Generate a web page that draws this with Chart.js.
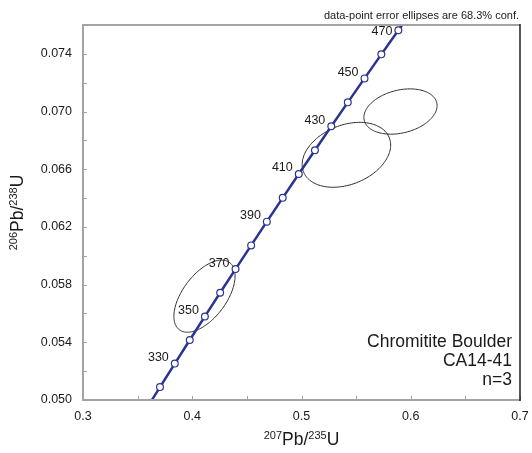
<!DOCTYPE html>
<html lang="en">
<head>
<meta charset="UTF-8">
<title>Concordia - Chromitite Boulder CA14-41</title>
<script src="https://cdn.jsdelivr.net/npm/chart.js"></script>
<style>
  html, body { margin: 0; padding: 0; background: #fff; }
  #wrap { width: 532px; height: 453px; }
</style>
</head>
<body>
<div id="wrap"><canvas id="chart" width="532" height="453"></canvas></div>
<script>
// concordia markers every 10 Ma
const ages = [320, 330, 340, 350, 360, 370, 380, 390, 400, 410, 420, 430, 440, 450, 460, 470];
const pb207u235 = [0.37047, 0.38403, 0.39773, 0.41156, 0.42553, 0.43964, 0.45389, 0.46828,
                   0.48281, 0.49749, 0.51231, 0.52728, 0.54239, 0.55766, 0.57308, 0.58865];
const pb206u238 = [0.050893, 0.052524, 0.054158, 0.055794, 0.057433, 0.059075, 0.060719, 0.062366,
                   0.064015, 0.065667, 0.067321, 0.068978, 0.070637, 0.072299, 0.073964, 0.075631];
// concordia runs past the frame at both ends (310 and 480 Ma)
const curveStart = [0.35703, 0.049264];
const curveEnd = [0.60437, 0.077301];
const labelledAges = [330, 350, 370, 390, 410, 430, 450, 470];

// data-point error ellipses
const ellipseX = [0.4112, 0.5411, 0.5906];
const ellipseY = [0.0572, 0.0670, 0.0700];
const ellipseErrX = [0.0280, 0.0405, 0.0335];
const ellipseErrY = [0.00250, 0.00225, 0.00157];
const ellipseRho = [0.56, 0.30, 0.26];

// axes
const xTicks = [0.30, 0.35, 0.40, 0.45, 0.50, 0.55, 0.60, 0.65, 0.70];
const xLabels = ['0.3', '0.4', '0.5', '0.6', '0.7'];
const yTicks = [0.050, 0.052, 0.054, 0.056, 0.058, 0.060, 0.062, 0.064, 0.066, 0.068, 0.070, 0.072, 0.074, 0.076];
const yLabels = ['0.050', '0.054', '0.058', '0.062', '0.066', '0.070', '0.074'];

const noteText = 'data-point error ellipses are 68.3% conf.';
const sampleText = ['Chromitite Boulder', 'CA14-41', 'n=3'];

const FONT = "'Liberation Sans', Arial, sans-serif";
const BLUE = '#2b3392';
const AXIS = '#a3a3a3';

Chart.defaults.font.family = FONT;

const curve = [{ x: curveStart[0], y: curveStart[1] }]
  .concat(ages.map((a, i) => ({ x: pb207u235[i], y: pb206u238[i] })))
  .concat([{ x: curveEnd[0], y: curveEnd[1] }]);
const markers = ages.map((a, i) => ({ x: pb207u235[i], y: pb206u238[i] }));

function drawSupText(ctx, parts, x, y) {
    // parts: [text, isSuperscript]
    const big = '17.5px ' + FONT, small = '11px ' + FONT;
    let w = 0;
    parts.forEach(p => { ctx.font = p[1] ? small : big; w += ctx.measureText(p[0]).width; });
    let cx = x - w / 2;
    ctx.textAlign = 'left';
    ctx.textBaseline = 'alphabetic';
    parts.forEach(p => {
        ctx.font = p[1] ? small : big;
        ctx.fillText(p[0], cx, p[1] ? y - 6 : y);
        cx += ctx.measureText(p[0]).width;
    });
}

const concordiaPlugin = {
    id: 'concordia',
    beforeDatasetsDraw(chart) {
        const { ctx, chartArea: a, scales: { x, y } } = chart;
        ctx.save();
        ctx.beginPath();
        ctx.rect(a.left, a.top, a.right - a.left, a.bottom - a.top);
        ctx.clip();
        ctx.strokeStyle = '#2a2a2a';
        ctx.lineWidth = 1;
        ellipseX.forEach((cx, i) => {
            const rho = ellipseRho[i];
            ctx.beginPath();
            for (let k = 0; k <= 160; k++) {
                const t = k / 160 * 2 * Math.PI;
                const dx = ellipseErrX[i] * Math.cos(t);
                const dy = ellipseErrY[i] * (rho * Math.cos(t) + Math.sqrt(1 - rho * rho) * Math.sin(t));
                const px = x.getPixelForValue(cx + dx);
                const py = y.getPixelForValue(ellipseY[i] + dy);
                if (k === 0) ctx.moveTo(px, py); else ctx.lineTo(px, py);
            }
            ctx.closePath();
            ctx.stroke();
        });
        ctx.restore();
    },
    afterDraw(chart) {
        const { ctx, chartArea: a, scales: { x, y } } = chart;
        ctx.save();

        // inward tick marks
        ctx.strokeStyle = AXIS;
        ctx.lineWidth = 1;
        yTicks.forEach(v => {
            const py = Math.round(y.getPixelForValue(v)) + 0.5;
            ctx.beginPath(); ctx.moveTo(a.left, py); ctx.lineTo(a.left + 4, py); ctx.stroke();
        });
        xTicks.forEach(v => {
            const px = Math.round(x.getPixelForValue(v)) + 0.5;
            ctx.beginPath(); ctx.moveTo(px, a.bottom); ctx.lineTo(px, a.bottom - 4); ctx.stroke();
        });

        // frame
        ctx.lineWidth = 2;
        ctx.strokeStyle = AXIS;
        ctx.beginPath();
        ctx.moveTo(a.right, a.top); ctx.lineTo(a.left, a.top);
        ctx.lineTo(a.left, a.bottom); ctx.lineTo(a.right, a.bottom);
        ctx.stroke();
        ctx.lineWidth = 1.5;
        ctx.strokeStyle = '#1e1e1e';
        ctx.beginPath(); ctx.moveTo(a.right, a.top - 1); ctx.lineTo(a.right, a.bottom + 1); ctx.stroke();

        // age labels on the concordia
        ctx.fillStyle = '#1a1a1a';
        ctx.font = '12.5px ' + FONT;
        ctx.textAlign = 'right';
        ctx.textBaseline = 'middle';
        labelledAges.forEach(age => {
            const i = ages.indexOf(age);
            const px = x.getPixelForValue(pb207u235[i]);
            const py = y.getPixelForValue(pb206u238[i]);
            ctx.fillText(String(age), px - 6, Math.max(py - 6, a.top + 7));
        });

        // axis titles
        drawSupText(ctx, [['207', true], ['Pb/', false], ['235', true], ['U', false]], (a.left + a.right) / 2, 445);
        ctx.save();
        ctx.translate(23, (a.top + a.bottom) / 2);
        ctx.rotate(-Math.PI / 2);
        drawSupText(ctx, [['206', true], ['Pb/', false], ['238', true], ['U', false]], 0, 0);
        ctx.restore();

        // note above the frame
        ctx.font = '11px ' + FONT;
        ctx.textAlign = 'right';
        ctx.textBaseline = 'alphabetic';
        ctx.fillStyle = '#1a1a1a';
        ctx.fillText(noteText, a.right - 1, 19);

        // sample block
        ctx.font = '17.5px ' + FONT;
        sampleText.forEach((t, i) => ctx.fillText(t, 512, 347 + i * 19));

        ctx.restore();
    }
};

new Chart(document.getElementById('chart'), {
    type: 'scatter',
    data: {
        datasets: [
            {
                type: 'line',
                data: curve,
                borderColor: BLUE,
                borderWidth: 2.5,
                pointRadius: 0,
                tension: 0,
                fill: false,
                order: 2
            },
            {
                data: markers,
                pointRadius: 3.4,
                pointBackgroundColor: '#ffffff',
                pointBorderColor: BLUE,
                pointBorderWidth: 1.2,
                order: 1
            }
        ]
    },
    options: {
        responsive: false,
        animation: false,
        layout: { padding: { top: 25, right: 12, left: 0, bottom: 0 } },
        plugins: { legend: { display: false }, tooltip: { enabled: false } },
        scales: {
            x: {
                type: 'linear',
                min: 0.3,
                max: 0.7,
                afterBuildTicks: s => { s.ticks = xTicks.map(v => ({ value: v })); },
                afterFit: s => { s.height = 53; s.paddingLeft = 0; s.paddingRight = 0; },
                grid: { display: false, drawTicks: false },
                border: { display: false },
                ticks: {
                    autoSkip: false,
                    maxRotation: 0,
                    padding: 9,
                    color: '#1a1a1a',
                    font: { size: 12.5 },
                    callback: v => {
                        const s = v.toFixed(1);
                        return Math.abs(v * 10 - Math.round(v * 10)) < 1e-6 && xLabels.includes(s) ? s : '';
                    }
                }
            },
            y: {
                type: 'linear',
                min: 0.050,
                max: 0.076,
                afterBuildTicks: s => { s.ticks = yTicks.map(v => ({ value: v })); },
                afterFit: s => { s.width = 83; s.paddingTop = 0; s.paddingBottom = 0; },
                grid: { display: false, drawTicks: false },
                border: { display: false },
                ticks: {
                    autoSkip: false,
                    padding: 11,
                    color: '#1a1a1a',
                    font: { size: 12.5 },
                    callback: v => {
                        const s = v.toFixed(3);
                        return yLabels.includes(s) ? s : '';
                    }
                }
            }
        }
    },
    plugins: [concordiaPlugin]
});
</script>
</body>
</html>
